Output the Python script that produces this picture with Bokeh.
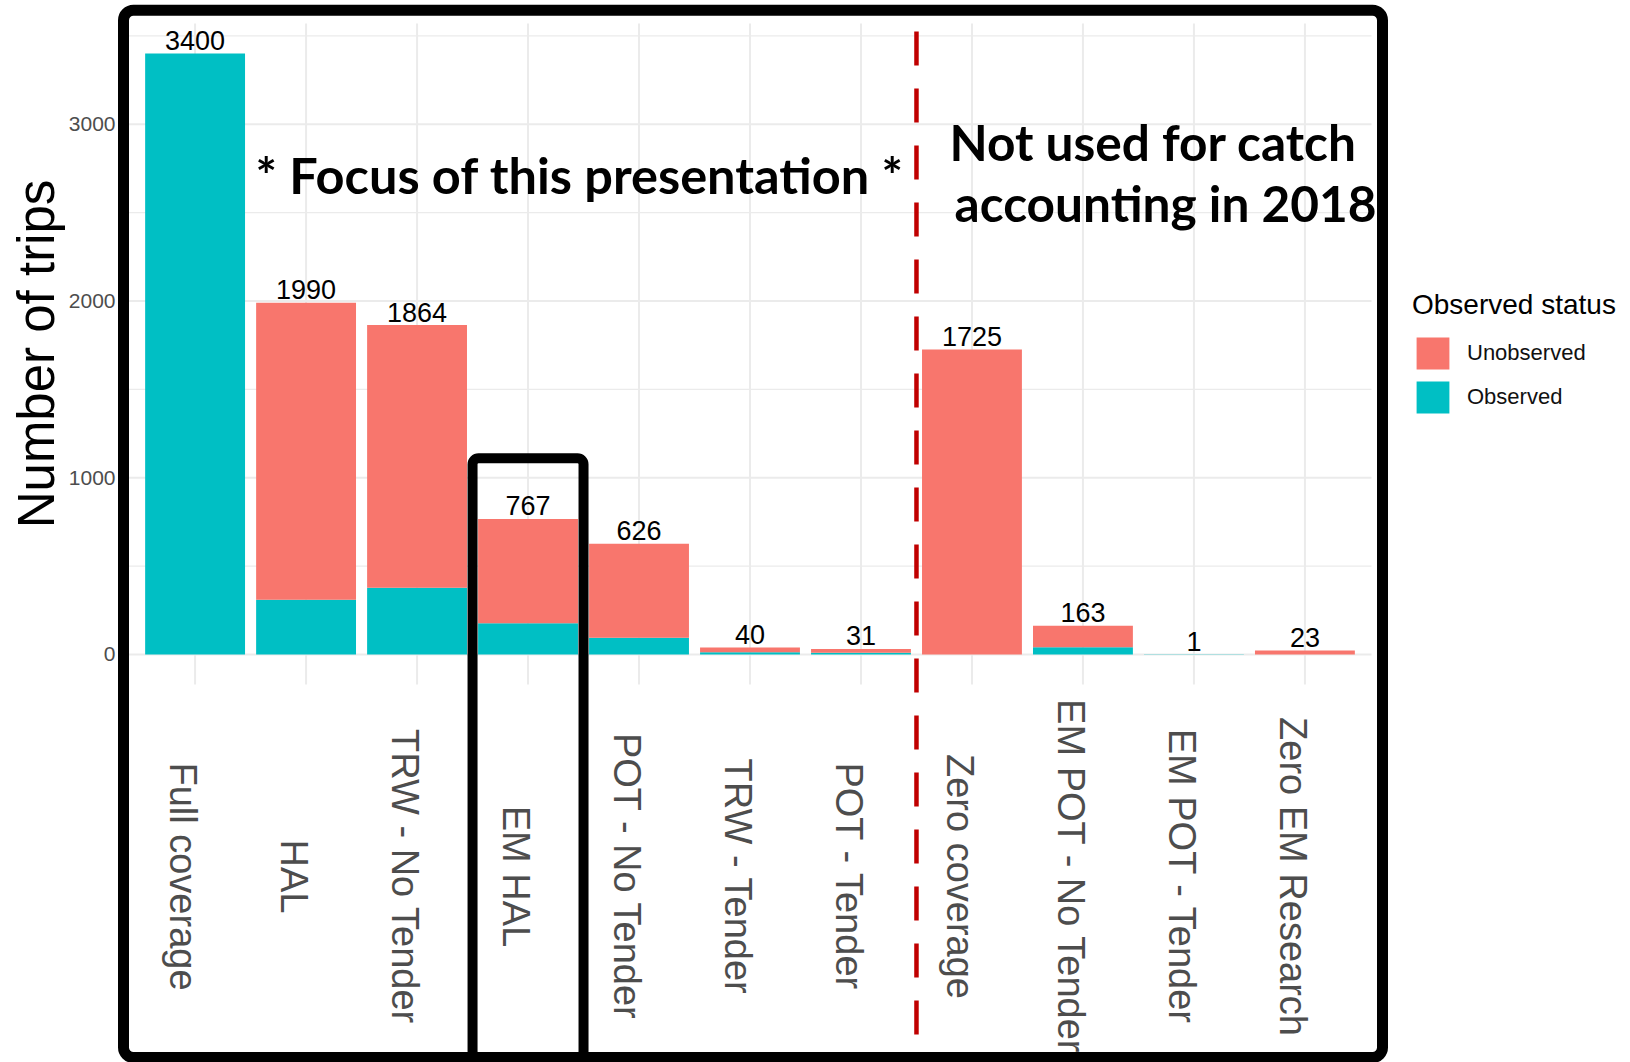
import math
from bokeh.plotting import figure
from bokeh.models import (ColumnDataSource, Range1d, Legend, LegendItem, BoxAnnotation)
from bokeh.core.properties import value
from bokeh.embed import file_html
from bokeh.resources import INLINE

# ---------------- data ----------------
categories = ["Full coverage", "HAL", "TRW - No Tender", "EM HAL", "POT - No Tender",
              "TRW - Tender", "POT - Tender", "Zero coverage", "EM POT - No Tender",
              "EM POT - Tender", "Zero EM Research"]
observed = [3400, 310, 377, 176, 95, 12, 10, 0, 41, 1, 0]
unobserved = [0, 1680, 1487, 591, 531, 28, 21, 1725, 122, 0, 23]
totals = [o + u for o, u in zip(observed, unobserved)]
y_ticks = [0, 1000, 2000, 3000]
y_minor = [500, 1500, 2500, 3500]
status_labels = ["Unobserved", "Observed"]
legend_title = "Observed status"
y_title = "Number of trips"
focus_text = "* Focus of this presentation *"
note_lines = ["Not used for catch", "accounting in 2018"]
split_after = 7          # dashed line between the 7th and 8th category
focus_box_index = 4      # EM HAL (1-based position)
focus_box_top = 1110     # trips

# ---------------- layout (pixels) ----------------
W, H = 1630, 1062
n = len(categories)
xpos = list(range(1, n + 1))
XLIM = (0.4, n + 0.6)          # ggplot-like discrete expansion
YLIM = (-170, 3570)            # 5 % expansion of 0..3400
PL, PR, PT, PB = 128, 1371, 23, 684   # panel edges in pixels
KX = (PR - PL) / (XLIM[1] - XLIM[0])
KY = (PB - PT) / (YLIM[1] - YLIM[0])


def dx(px):
    return XLIM[0] + (px - PL) / KX


def dy(py):
    return YLIM[0] + (PB - py) / KY


RED = "#F8766D"
CYAN = "#00BFC4"
GRID = "#EBEBEB"
FONT = "Liberation Sans"
AXIS_GREY = "#4D4D4D"

p = figure(width=W, height=H,
           x_range=Range1d(dx(0), dx(W)), y_range=Range1d(dy(H), dy(0)),
           output_backend="svg", toolbar_location=None,
           min_border_left=0, min_border_right=0, min_border_top=0, min_border_bottom=0)
p.outline_line_color = None
p.background_fill_color = "white"
p.border_fill_color = "white"
p.xaxis.visible = False
p.yaxis.visible = False
p.xgrid.visible = False
p.ygrid.visible = False

# ---- panel grid ----
p.segment(x0=[XLIM[0]] * len(y_minor), x1=[XLIM[1]] * len(y_minor), y0=y_minor, y1=y_minor,
          line_color=GRID, line_width=1.3)
p.segment(x0=[XLIM[0]] * len(y_ticks), x1=[XLIM[1]] * len(y_ticks), y0=y_ticks, y1=y_ticks,
          line_color=GRID, line_width=2)
p.segment(x0=xpos, x1=xpos, y0=[YLIM[0]] * n, y1=[YLIM[1]] * n, line_color=GRID, line_width=2)

# ---- bars ----
src = ColumnDataSource(dict(
    x=xpos, cat=categories, Observed=observed, Unobserved=unobserved,
    total=totals, total_str=[str(t) for t in totals],
))
rs = p.vbar_stack(["Observed", "Unobserved"], x="x", width=0.9, source=src,
                  fill_color=[CYAN, RED], line_color=None)

p.text(x="x", y="total", text="total_str", source=src,
       text_font=value(FONT), text_font_size="27px", text_align="center",
       text_baseline="middle", y_offset=-13, text_color="black")

# ---- y axis: tick labels and title ----
p.text(x=[XLIM[0]] * len(y_ticks), y=y_ticks, text=[str(t) for t in y_ticks],
       text_font=value(FONT), text_font_size="21px", text_color=AXIS_GREY,
       text_align="right", text_baseline="middle", x_offset=-13)
p.text(x=[dx(36)], y=[sum(YLIM) / 2], text=[y_title], angle=math.pi / 2,
       text_font=value(FONT), text_font_size="51px", text_color="black",
       text_align="center", text_baseline="middle")

# ---- x axis: rotated category labels ----
p.text(x="x", y=dy(876), text="cat", source=src, angle=-math.pi / 2,
       text_font=value(FONT), text_font_size="38px", text_color=AXIS_GREY,
       text_align="center", text_baseline="middle", x_offset=-12)

# ---- legend ----
legend = Legend(items=[LegendItem(label=status_labels[0], renderers=[rs[1]]),
                       LegendItem(label=status_labels[1], renderers=[rs[0]])],
                location=(1412, 645), title=legend_title,
                title_text_font=FONT, title_text_font_size="28px", title_text_font_style="normal",
                title_text_color="black", title_standoff=12,
                label_text_font=FONT, label_text_font_size="22px", label_text_color="#111111",
                glyph_width=41, glyph_height=40, label_height=40, label_standoff=14, spacing=4,
                padding=0, margin=0, border_line_color=None, background_fill_alpha=0)
p.add_layout(legend)

# ---- annotation texts ----
p.text(x=[dx(255)], y=[dy(173.5)], text=[focus_text], text_font=value("Lato"),
       text_font_style="bold", text_font_size="50.5px", text_color="black",
       text_align="left", text_baseline="middle")
p.text(x=[dx(949), dx(954)], y=[dy(141), dy(202.5)], text=note_lines, text_font=value("Lato"),
       text_font_style="bold", text_font_size="49.6px", text_color="black",
       text_align="left", text_baseline="middle")

# ---- dashed separator ----
p.segment(x0=[split_after + 0.5], x1=[split_after + 0.5], y0=[dy(31)], y1=[dy(1050)],
          line_color="#C00000", line_width=4.5, line_dash="34 23")

# ---- highlight boxes ----
p.add_layout(BoxAnnotation(left=dx(123), right=dx(1382), top=dy(9.7), bottom=dy(1057),
                           fill_alpha=0, line_color="black", line_alpha=1, line_width=11,
                           border_radius=10))
p.add_layout(BoxAnnotation(left=focus_box_index - 0.5, right=focus_box_index + 0.5,
                           top=focus_box_top, bottom=dy(1057),
                           fill_alpha=0, line_color="black", line_alpha=1, line_width=10,
                           border_radius=6))

open("out.html", "w").write(file_html(p, INLINE))
